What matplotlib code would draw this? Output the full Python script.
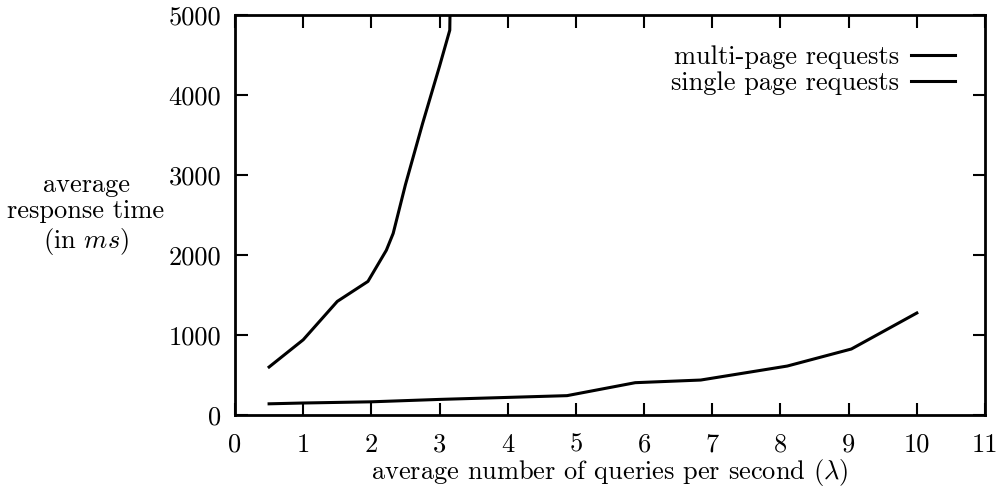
import matplotlib
matplotlib.use("Agg")
import matplotlib.pyplot as plt

# Average response time (ms) vs. query arrival rate
multi_x = [0.5, 1.0, 1.5, 1.95, 2.22, 2.32, 2.5, 2.75, 3.0, 3.15, 3.17]
multi_y = [600, 940, 1420, 1670, 2060, 2270, 2880, 3640, 4360, 4810, 6000]

single_x = [0.5, 1.0, 2.0, 3.0, 4.0, 4.87, 5.87, 6.83, 8.1, 9.04, 10.0]
single_y = [140, 150, 165, 195, 220, 242, 404, 437, 612, 825, 1275]

x_ticks = list(range(0, 12))
y_ticks = [0, 1000, 2000, 3000, 4000, 5000]

plt.rcParams["font.family"] = ["cmr10"]
plt.rcParams["mathtext.fontset"] = "cm"
plt.rcParams["axes.formatter.use_mathtext"] = True

FS = 19
fig = plt.figure(figsize=(10, 4.93), dpi=100)
ax = fig.add_axes([0.235, 0.1582, 0.75, 0.8114])

ax.plot(multi_x, multi_y, color="black", lw=2.2, label="multi-page requests")
ax.plot(single_x, single_y, color="black", lw=2.2, label="single page requests")

ax.set_xlim(0, 11)
ax.set_ylim(0, 5000)
ax.set_xticks(x_ticks)
ax.set_yticks(y_ticks)
ax.set_xticklabels([str(v) for v in x_ticks])
ax.set_yticklabels([str(v) for v in y_ticks])
ax.tick_params(direction="in", length=9, width=1.5, top=True, right=True,
               labelsize=FS)
ax.tick_params(axis="x", pad=13)
ax.tick_params(axis="y", pad=10)
for s in ax.spines.values():
    s.set_linewidth(2.0)

ax.set_xlabel(r"average number of queries per second ($\lambda$)", fontsize=FS, labelpad=0)
fig.text(0.086, 0.564, "average\nresponse time\n(in $ms$)", fontsize=FS,
         ha="center", va="center", linespacing=1.12)

ax.legend(loc="upper right", frameon=False, markerfirst=False, fontsize=FS,
          handlelength=1.65, handletextpad=0.45, labelspacing=0.08,
          borderaxespad=0.75)

fig.savefig("out.png", dpi=100)
